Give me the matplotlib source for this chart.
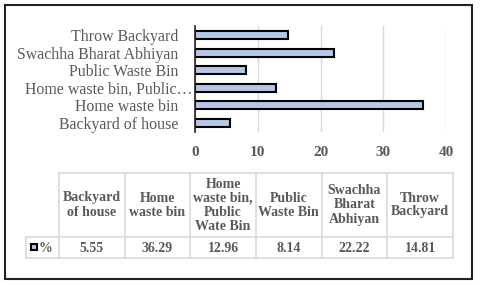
import numpy as np
import matplotlib.pyplot as plt
import matplotlib.transforms as mtransforms
from matplotlib.patches import Rectangle

plt.rcParams['font.family'] = ['Liberation Serif', 'DejaVu Serif']

# data
categories = ['Backyard of house', 'Home waste bin', 'Home waste bin, Public Wate Bin',
              'Public Waste Bin', 'Swachha Bharat Abhiyan', 'Throw Backyard']
axis_labels = ['Backyard of house', 'Home waste bin', 'Home waste bin, Public\u2026',
               'Public Waste Bin', 'Swachha Bharat Abhiyan', 'Throw Backyard']
table_headers = ['Backyard\nof house', 'Home\nwaste bin', 'Home\nwaste bin,\nPublic\nWate Bin',
                 'Public\nWaste Bin', 'Swachha\nBharat\nAbhiyan', 'Throw\nBackyard']
values = [5.55, 36.29, 12.96, 8.14, 22.22, 14.81]
series_name = '%'

bar_color = '#b4c7e7'
text_grey = '#595959'
grid_grey = '#d9d9d9'

W, H = 480, 285
fig = plt.figure(figsize=(4.8, 2.85), dpi=100)

# overlay for frame and table (pixel coordinates)
ov = fig.add_axes([0, 0, 1, 1])
ov.set_xlim(0, W)
ov.set_ylim(H, 0)
ov.axis('off')
ov.add_patch(Rectangle((5, 5), 467, 274, fill=False, edgecolor='#222222', lw=1.5))

# bar chart
ax = fig.add_axes([195 / W, 1 - 131.8 / H, (446 - 195) / W, (131.8 - 26.2) / H])
y = np.arange(len(categories))
ax.barh(y, values, height=0.45, color=bar_color, edgecolor='black', linewidth=1.5, zorder=3)
ax.set_xlim(0, 40)
ax.set_ylim(-0.5, len(categories) - 0.5)
ax.set_xticks([0, 10, 20, 30, 40])
ax.set_yticks(y)
ax.set_yticklabels(axis_labels, fontsize=11.4, color=text_grey)
for lab in ax.get_xticklabels():
    lab.set_fontsize(11)
    lab.set_fontweight('bold')
    lab.set_color(text_grey)
ax.tick_params(length=0)
ax.tick_params(axis='x', pad=10)
ax.tick_params(axis='y', pad=12)
# truncated label sits closer to the axis
trunc = ax.get_yticklabels()[2]
trunc.set_transform(trunc.get_transform() +
                    mtransforms.ScaledTranslation(14 / 100, 0, fig.dpi_scale_trans))
ax.xaxis.grid(True, color=grid_grey, lw=1)
ax.set_axisbelow(True)
for s in ['top', 'right', 'bottom']:
    ax.spines[s].set_visible(False)
ax.spines['left'].set_color('#222222')
ax.spines['left'].set_linewidth(1.2)
ax.spines['left'].set_zorder(4)

# data table
x0, x1, key_x = 59, 453, 26
top, mid, bot = 173, 237, 258
n = len(categories)
edges = np.linspace(x0, x1, n + 1)
lc = dict(color=grid_grey, lw=1.2)
ov.plot([x0, x1], [top, top], **lc)
ov.plot([key_x, x1], [mid, mid], **lc)
ov.plot([key_x, x1], [bot, bot], **lc)
ov.plot([key_x, key_x], [mid, bot], **lc)
for ex in edges:
    ov.plot([ex, ex], [top, bot], **lc)
for i in range(n):
    cx = (edges[i] + edges[i + 1]) / 2
    ov.text(cx, (top + mid) / 2, table_headers[i], ha='center', va='center',
            fontsize=10, fontweight='bold', color=text_grey, linespacing=1.1)
    ov.text(cx, (mid + bot) / 2 + 0.5, f'{values[i]:.2f}', ha='center', va='center',
            fontsize=10, fontweight='bold', color=text_grey)
ov.add_patch(Rectangle((30.5, 243.5), 6, 6, facecolor=bar_color, edgecolor='black', lw=1.5))
ov.text(39, (mid + bot) / 2 + 0.5, series_name, ha='left', va='center',
        fontsize=10, fontweight='bold', color=text_grey)

fig.savefig('out.png', dpi=100)
